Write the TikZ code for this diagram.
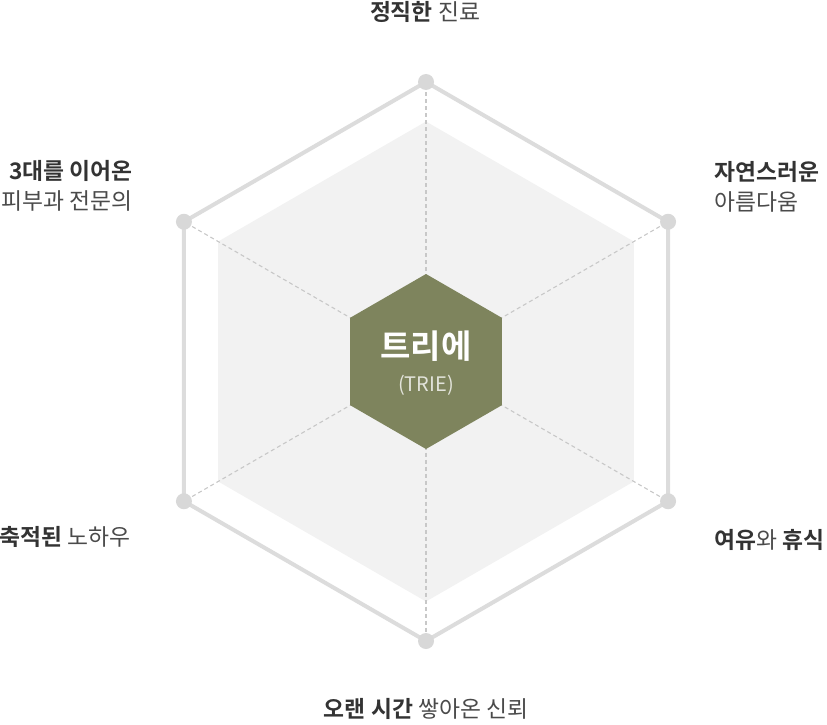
\documentclass[tikz,border=0pt]{standalone}
\usepackage{fontspec}
\usetikzlibrary{calc}
\newfontfamily\kr{Noto Sans CJK KR}
\newfontfamily\krb{Noto Sans CJK KR Bold}
\definecolor{olive}{HTML}{7E845D}
\definecolor{outerline}{HTML}{DCDCDC}
\definecolor{dotc}{HTML}{D8D8D8}
\definecolor{innerfill}{HTML}{F2F2F2}
\definecolor{dashc}{HTML}{C8C8C8}
\definecolor{txtb}{HTML}{333333}
\definecolor{txtr}{HTML}{4A4A4A}
\definecolor{subt}{HTML}{E2E3DA}
\tikzset{
  x=1pt,y=-1pt,
  lbl/.style={font=\kr\fontsize{22.8}{30}\selectfont, text=txtr, inner sep=0pt},
  vdot/.style={circle, fill=dotc, minimum size=16pt, inner sep=0pt},
  spoke/.style={dashc, line width=1.1pt, dash pattern=on 4pt off 3pt},
  rim/.style={outerline, line width=4pt, line join=round},
}
\newcommand{\B}[1]{{\krb\color{txtb}#1}}
\begin{document}
\begin{tikzpicture}
\useasboundingbox (0,0) rectangle (827,725);
\coordinate (c) at (426,361.5);
% outer vertices (top, upper right, lower right, bottom, lower left, upper left)
\coordinate (v1) at ($(c)+(-90:279.5)$);
\coordinate (v2) at ($(c)+(-30:279.5)$);
\coordinate (v3) at ($(c)+(30:279.5)$);
\coordinate (v4) at ($(c)+(90:279.5)$);
\coordinate (v5) at ($(c)+(150:279.5)$);
\coordinate (v6) at ($(c)+(210:279.5)$);
% inner fill
\fill[innerfill] ($(c)+(-90:240)$) -- ($(c)+(-30:240)$) -- ($(c)+(30:240)$)
  -- ($(c)+(90:240)$) -- ($(c)+(150:240)$) -- ($(c)+(210:240)$) -- cycle;
% spokes
\foreach \i in {1,...,6} { \draw[spoke] (c) -- (v\i); }
% rim
\draw[rim] (v1) -- (v2) -- (v3) -- (v4) -- (v5) -- (v6) -- cycle;
% dots
\foreach \i in {1,...,6} { \node[vdot] (d\i) at (v\i) {}; }
% center hexagon
\fill[olive] ($(c)+(-90:87.5)$) -- ($(c)+(-30:87.5)$) -- ($(c)+(30:87.5)$)
  -- ($(c)+(90:87.5)$) -- ($(c)+(150:87.5)$) -- ($(c)+(210:87.5)$) -- cycle;
\node[inner sep=0pt, text=white, font=\krb\fontsize{33}{33}\selectfont] (core) at (426,346) {트리에};
\node[inner sep=0pt, text=subt, font=\kr\fontsize{20}{20}\selectfont] (coresub) at (426,385) {(TRIE)};
% labels
\node[lbl] (l1) at (425,12) {\B{정직한} 진료};
\node[lbl, anchor=west, align=left] (l2) at (714,187) {\B{자연스러운}\\아름다움};
\node[lbl, anchor=west] (l3) at (714,540) {\B{여유}와 \B{휴식}};
\node[lbl] (l4) at (426,709) {\B{오랜 시간} 쌓아온 신뢰};
\node[lbl, anchor=east] (l5) at (131,537) {\B{축적된} 노하우};
\node[lbl, anchor=east, align=right] (l6) at (133,186) {\B{3대를 이어온}\\피부과 전문의};
\end{tikzpicture}
\end{document}
